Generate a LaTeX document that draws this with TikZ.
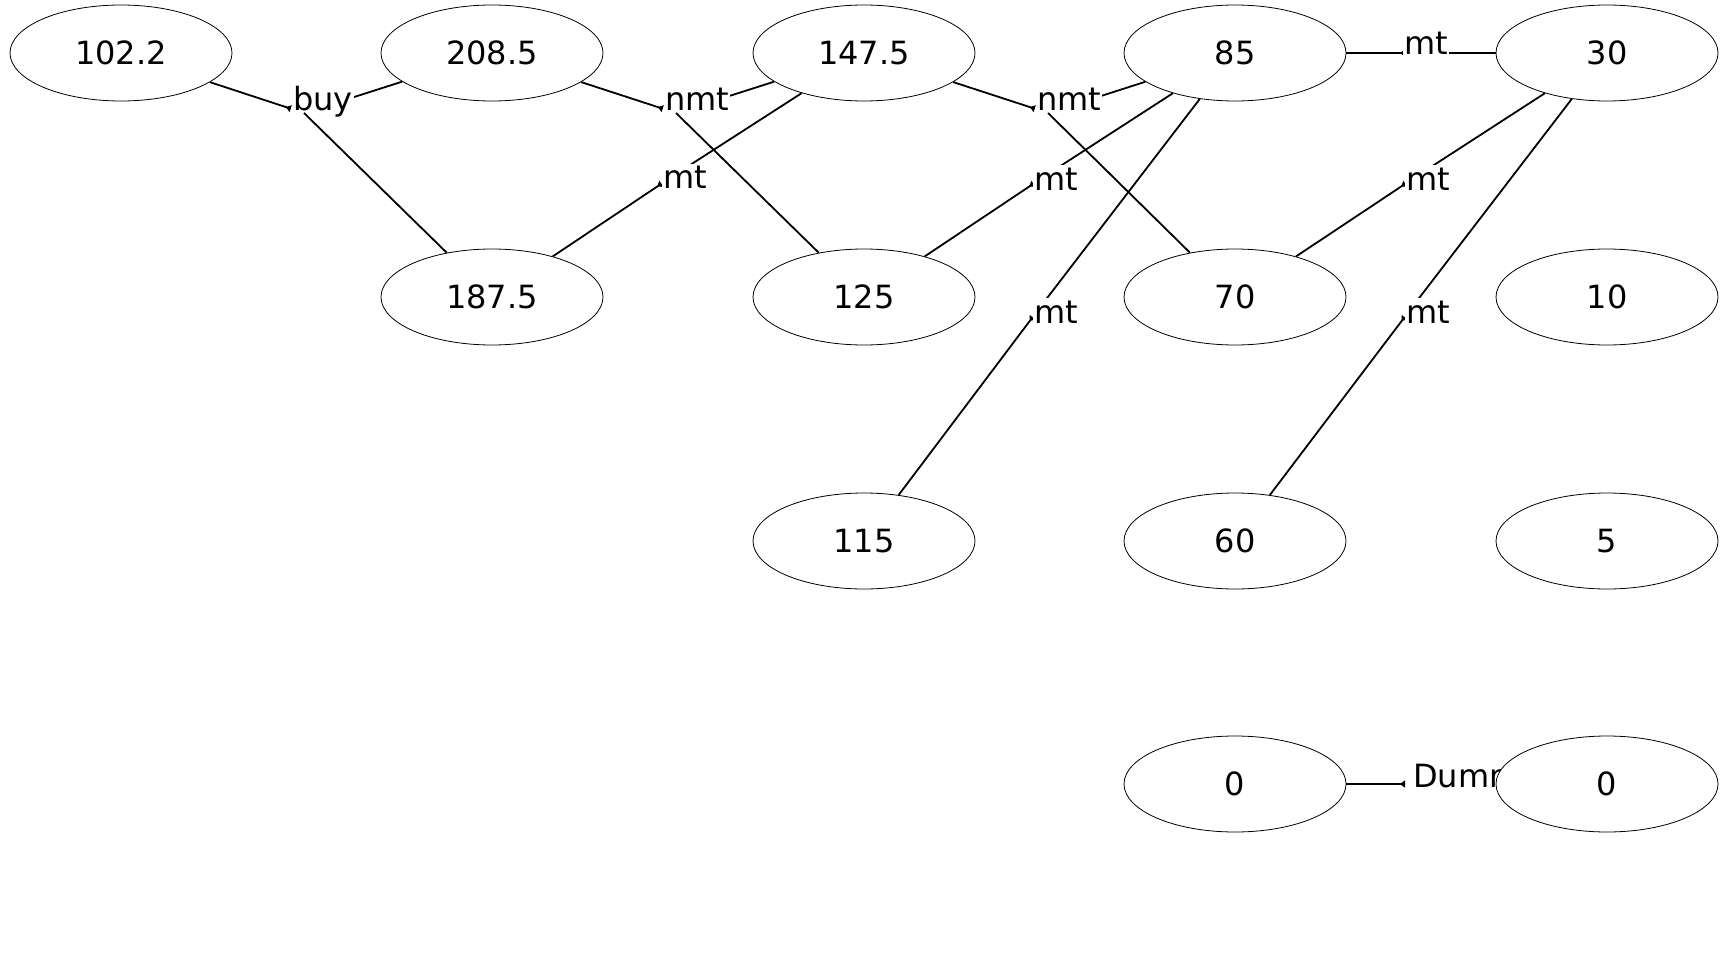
\documentclass[tikz,border=0pt]{standalone}
\usepackage{fontspec}
\setmainfont{DejaVu Sans}
\usetikzlibrary{shapes.geometric,arrows.meta}
\begin{document}
\begin{tikzpicture}[x=1pt,y=-1pt,
  state/.style={ellipse,draw,line width=0.8pt,fill=white,minimum width=222pt,minimum height=96pt,inner sep=0pt,font=\fontsize{32}{38}\selectfont},
  lbl/.style={anchor=base west,fill=white,inner xsep=1pt,inner ysep=3pt,font=\fontsize{32}{38}\selectfont},
  edge/.style={line width=1.8pt},
  arr/.style={line width=1.8pt,-{Triangle[reversed,length=5pt,width=7pt]},shorten >=14pt}]
\useasboundingbox (0,0) rectangle (1728,960);
% node positions
\coordinate (c1) at (121,53);
\coordinate (c2) at (492,53);
\coordinate (c3) at (492,297);
\coordinate (c4) at (864,53);
\coordinate (c5) at (864,297);
\coordinate (c6) at (864,541);
\coordinate (c7) at (1235,53);
\coordinate (c8) at (1235,297);
\coordinate (c9) at (1235,541);
\coordinate (c10) at (1235,784);
\coordinate (c11) at (1607,53);
\coordinate (c12) at (1607,297);
\coordinate (c13) at (1607,541);
\coordinate (c14) at (1607,784);
% meeting points
\coordinate (m1) at (304,113);
\coordinate (m2) at (676,113);
\coordinate (m3) at (673,176);
\coordinate (m4) at (1048,113);
\coordinate (m5) at (1045,176);
\coordinate (m6) at (1041,306);
\coordinate (m7) at (1419,53);
\coordinate (m8) at (1417,176);
\coordinate (m9) at (1413,306);
\coordinate (m10) at (1419,784);
% invisible node shapes for clipping
\foreach \i in {1,...,14} {\node[state,draw=none,fill=none] (n\i) at (c\i) {};}
% edges hidden by labels
\draw[arr] (n1) -- (m1);
\draw[edge] (n2) -- (m1);
\draw[arr] (n2) -- (m2);
\draw[edge] (n4) -- (m2);
\draw[arr] (n3) -- (m3);
\draw[edge] (n4) -- (m3);
\draw[arr] (n4) -- (m4);
\draw[edge] (n7) -- (m4);
\draw[arr] (n5) -- (m5);
\draw[edge] (n7) -- (m5);
\draw[arr] (n6) -- (m6);
\draw[edge] (n7) -- (m6);
\draw[arr] (n7) -- (m7);
\draw[edge] (n11) -- (m7);
\draw[arr] (n8) -- (m8);
\draw[edge] (n11) -- (m8);
\draw[arr] (n9) -- (m9);
\draw[edge] (n11) -- (m9);
\draw[arr] (n10) -- (m10);
\draw[edge] (n14) -- (m10);
% labels
\node[lbl] (l1) at (292,111) {buy};
\node[lbl] (l2) at (664,111) {nmt};
\node[lbl] (l3) at (662,189) {mt};
\node[lbl] (l4) at (1036,111) {nmt};
\node[lbl] (l5) at (1033,190) {mt};
\node[lbl] (l6) at (1033,323) {mt};
\node[lbl] (l7) at (1403,55) {mt};
\node[lbl] (l8) at (1405,190) {mt};
\node[lbl] (l9) at (1405,323) {mt};
\node[lbl] (l10) at (1412,787) {Dummy};
% edges drawn over labels
\draw[edge] (n3) -- (m1);
\draw[edge] (n5) -- (m2);
\draw[edge] (n8) -- (m4);
% nodes
\node[state] (s1) at (c1) {102.2};
\node[state] (s2) at (c2) {208.5};
\node[state] (s3) at (c3) {187.5};
\node[state] (s4) at (c4) {147.5};
\node[state] (s5) at (c5) {125};
\node[state] (s6) at (c6) {115};
\node[state] (s7) at (c7) {85};
\node[state] (s8) at (c8) {70};
\node[state] (s9) at (c9) {60};
\node[state] (s10) at (c10) {0};
\node[state] (s11) at (c11) {30};
\node[state] (s12) at (c12) {10};
\node[state] (s13) at (c13) {5};
\node[state] (s14) at (c14) {0};
\end{tikzpicture}
\end{document}
